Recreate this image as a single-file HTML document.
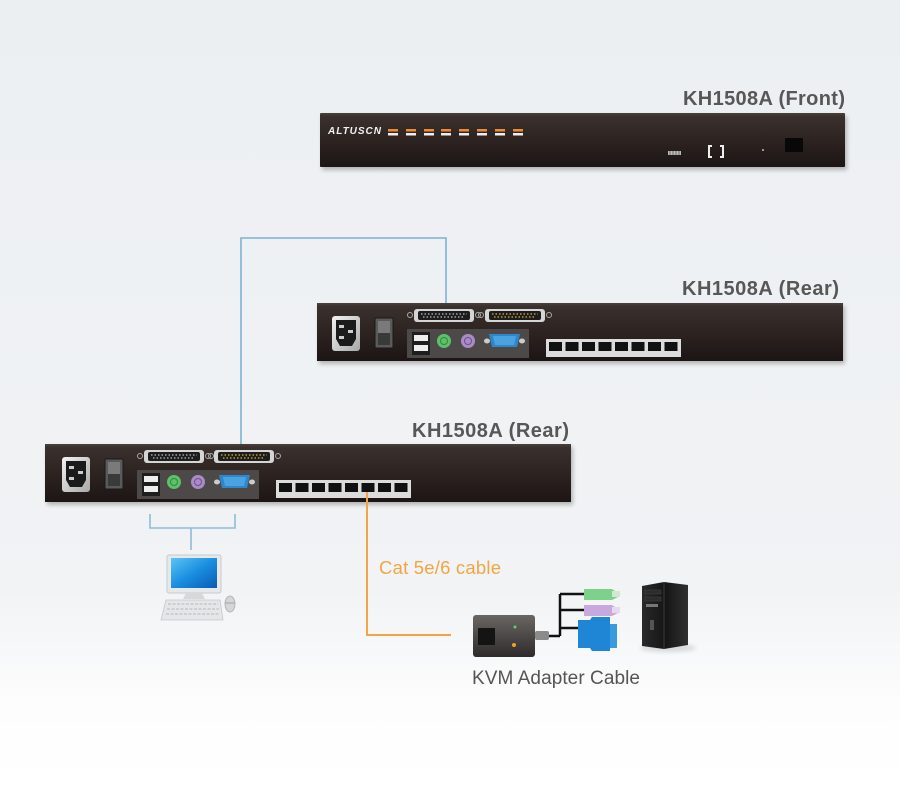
<!DOCTYPE html>
<html><head><meta charset="utf-8"><style>
html,body{margin:0;padding:0;width:900px;height:786px;overflow:hidden;background:#fff}
svg{display:block}
text{font-family:"Liberation Sans",Arial,sans-serif}
</style></head><body>
<svg width="900" height="786" viewBox="0 0 900 786" xmlns="http://www.w3.org/2000/svg">
<defs>
<linearGradient id="bg" x1="0" y1="0" x2="0" y2="1">
<stop offset="0" stop-color="#eceff2"/><stop offset="0.75" stop-color="#f1f3f5"/><stop offset="0.9" stop-color="#fdfdfd"/><stop offset="1" stop-color="#ffffff"/>
</linearGradient>
<linearGradient id="body" x1="0" y1="0" x2="0" y2="1">
<stop offset="0" stop-color="#4a403c"/><stop offset="0.06" stop-color="#3a302d"/><stop offset="0.6" stop-color="#2a211f"/><stop offset="1" stop-color="#1c1513"/>
</linearGradient>
<linearGradient id="silver" x1="0" y1="0" x2="1" y2="1">
<stop offset="0" stop-color="#f2f2f2"/><stop offset="1" stop-color="#a8a8a8"/>
</linearGradient>
<linearGradient id="scr" x1="0" y1="0" x2="1" y2="1">
<stop offset="0" stop-color="#5cc4f5"/><stop offset="0.5" stop-color="#1a8ee0"/><stop offset="1" stop-color="#0b5bb5"/>
</linearGradient>
<linearGradient id="adp" x1="0" y1="0" x2="0" y2="1">
<stop offset="0" stop-color="#6a6664"/><stop offset="1" stop-color="#2e2b2a"/>
</linearGradient>
<linearGradient id="tower" x1="0" y1="0" x2="1" y2="0">
<stop offset="0" stop-color="#2a2a2a"/><stop offset="0.5" stop-color="#151515"/><stop offset="1" stop-color="#303030"/>
</linearGradient>
<filter id="sh" x="-5%" y="-20%" width="110%" height="160%"><feGaussianBlur stdDeviation="2"/></filter>
</defs>
<rect width="900" height="786" fill="url(#bg)"/>

<!-- FRONT UNIT -->
<text x="845" y="105" text-anchor="end" font-size="20" font-weight="bold" fill="#575757" textLength="162">KH1508A (Front)</text>
<rect x="322" y="116" width="525" height="54" fill="#000" opacity="0.25" filter="url(#sh)"/>
<rect x="320" y="113" width="525" height="54" rx="1" fill="url(#body)"/>
<text x="328" y="134" font-size="10" font-weight="bold" font-style="italic" fill="#f2f2f2" textLength="53">ALTUSCN</text>
<g>
<rect x="388" y="129" width="10" height="2.5" fill="#f08a2a"/><rect x="388" y="133" width="10" height="2.5" fill="#eee"/>
<rect x="406" y="129" width="10" height="2.5" fill="#f08a2a"/><rect x="406" y="133" width="10" height="2.5" fill="#eee"/>
<rect x="424" y="129" width="10" height="2.5" fill="#f08a2a"/><rect x="424" y="133" width="10" height="2.5" fill="#eee"/>
<rect x="441" y="129" width="10" height="2.5" fill="#f08a2a"/><rect x="441" y="133" width="10" height="2.5" fill="#eee"/>
<rect x="459" y="129" width="10" height="2.5" fill="#f08a2a"/><rect x="459" y="133" width="10" height="2.5" fill="#eee"/>
<rect x="477" y="129" width="10" height="2.5" fill="#f08a2a"/><rect x="477" y="133" width="10" height="2.5" fill="#eee"/>
<rect x="495" y="129" width="10" height="2.5" fill="#f08a2a"/><rect x="495" y="133" width="10" height="2.5" fill="#eee"/>
<rect x="513" y="129" width="10" height="2.5" fill="#f08a2a"/><rect x="513" y="133" width="10" height="2.5" fill="#eee"/>
</g>
<rect x="668" y="151" width="13" height="4" fill="#bbb"/>
<path d="M670 151v4M673 151v4M676 151v4M679 151v4" stroke="#555" stroke-width="0.8"/>
<path d="M712 146h-3v11h3M720 146h3v11h-3" stroke="#eee" stroke-width="2" fill="none"/>
<circle cx="763" cy="150" r="1" fill="#bbb"/>
<rect x="785" y="138" width="18" height="14" fill="#080808"/>

<!-- BLUE CONNECTOR -->
<path d="M241 458V238H446V316" fill="none" stroke="#7cb3d2" stroke-width="1.6"/>

<!-- REAR UNIT 1 -->
<text x="839" y="295" text-anchor="end" font-size="20" font-weight="bold" fill="#575757" textLength="157">KH1508A (Rear)</text>
<g transform="translate(317,303)">
<rect x="2" y="3" width="526" height="58" fill="#000" opacity="0.25" filter="url(#sh)"/>
<rect width="526" height="58" fill="url(#body)"/>
<rect x="15" y="13" width="28" height="35" rx="3" fill="url(#silver)"/>
<path d="M19 17h20v19l-4 7h-12l-4-7z" fill="#1b1b1b"/>
<rect x="22" y="22" width="5" height="3" fill="#ccc"/><rect x="22" y="33" width="5" height="3" fill="#ccc"/><rect x="31" y="27" width="5" height="3" fill="#ccc"/>
<rect x="58" y="15" width="18" height="30" rx="1" fill="#5a5a5a" stroke="#1a1a1a"/>
<rect x="61" y="18" width="12" height="24" fill="#7a7a7a"/><rect x="61" y="30" width="12" height="12" fill="#3a3a3a"/>
<circle cx="93" cy="12" r="2.5" fill="none" stroke="#aaa"/><rect x="97" y="6" width="60" height="13" rx="3" fill="#d5d5d5"/><rect x="101" y="8" width="52" height="9" rx="2" fill="#1d1d1d"/>
<path d="M104 11h46M106 14h42" stroke="#bbb" stroke-width="1.2" stroke-dasharray="1.5 2"/><circle cx="161" cy="12" r="2.5" fill="none" stroke="#aaa"/>
<circle cx="164" cy="12" r="2.5" fill="none" stroke="#aaa"/><rect x="168" y="6" width="60" height="13" rx="3" fill="#d5d5d5"/><rect x="172" y="8" width="52" height="9" rx="2" fill="#1d1d1d"/>
<path d="M175 11h46M177 14h42" stroke="#e0b040" stroke-width="1.2" stroke-dasharray="1.5 2"/><circle cx="232" cy="12" r="2.5" fill="none" stroke="#aaa"/>
<rect x="90" y="26" width="122" height="29" fill="#4e4949"/>
<rect x="95" y="29" width="18" height="23" fill="#1e1e1e"/><rect x="97" y="32" width="14" height="6" fill="#eee"/><rect x="97" y="42" width="14" height="6" fill="#eee"/>
<circle cx="127" cy="38" r="7" fill="#5fbf6a"/><circle cx="127" cy="38" r="3.5" fill="none" stroke="#2e8a3e"/>
<circle cx="151" cy="38" r="7" fill="#a98cc4"/><circle cx="151" cy="38" r="3.5" fill="none" stroke="#6f4f8f"/>
<ellipse cx="170" cy="38" rx="3" ry="2.5" fill="#ccc"/><ellipse cx="205" cy="38" rx="3" ry="2.5" fill="#ccc"/>
<path d="M172 31h31l-3 13h-25z" fill="#2f86c8"/><path d="M176 33h23l-2 9h-19z" fill="#4aa3e0"/>
<rect x="229" y="36" width="135" height="18" fill="#dcdcdc"/>
<g fill="#111">
<rect x="232" y="39" width="13" height="9"/><rect x="248.5" y="39" width="13" height="9"/><rect x="265" y="39" width="13" height="9"/><rect x="281.5" y="39" width="13" height="9"/>
<rect x="298" y="39" width="13" height="9"/><rect x="314.5" y="39" width="13" height="9"/><rect x="331" y="39" width="13" height="9"/><rect x="347.5" y="39" width="13" height="9"/>
</g>
</g>

<!-- REAR UNIT 2 -->
<text x="569" y="437" text-anchor="end" font-size="20" font-weight="bold" fill="#575757" textLength="157">KH1508A (Rear)</text>
<g transform="translate(45,444)">
<rect x="2" y="3" width="526" height="58" fill="#000" opacity="0.25" filter="url(#sh)"/>
<rect width="526" height="58" fill="url(#body)"/>
<rect x="17" y="13" width="28" height="35" rx="3" fill="url(#silver)"/>
<path d="M21 17h20v19l-4 7h-12l-4-7z" fill="#1b1b1b"/>
<rect x="24" y="22" width="5" height="3" fill="#ccc"/><rect x="24" y="33" width="5" height="3" fill="#ccc"/><rect x="33" y="27" width="5" height="3" fill="#ccc"/>
<rect x="60" y="15" width="18" height="30" rx="1" fill="#5a5a5a" stroke="#1a1a1a"/>
<rect x="63" y="18" width="12" height="24" fill="#7a7a7a"/><rect x="63" y="30" width="12" height="12" fill="#3a3a3a"/>
<circle cx="95" cy="12" r="2.5" fill="none" stroke="#aaa"/><rect x="99" y="6" width="60" height="13" rx="3" fill="#d5d5d5"/><rect x="103" y="8" width="52" height="9" rx="2" fill="#1d1d1d"/>
<path d="M106 11h46M108 14h42" stroke="#bbb" stroke-width="1.2" stroke-dasharray="1.5 2"/><circle cx="163" cy="12" r="2.5" fill="none" stroke="#aaa"/>
<circle cx="166" cy="12" r="2.5" fill="none" stroke="#aaa"/><rect x="169" y="6" width="60" height="13" rx="3" fill="#d5d5d5"/><rect x="173" y="8" width="52" height="9" rx="2" fill="#1d1d1d"/>
<path d="M176 11h46M178 14h42" stroke="#e0b040" stroke-width="1.2" stroke-dasharray="1.5 2"/><circle cx="233" cy="12" r="2.5" fill="none" stroke="#aaa"/>
<rect x="92" y="26" width="122" height="29" fill="#4e4949"/>
<rect x="97" y="29" width="18" height="23" fill="#1e1e1e"/><rect x="99" y="32" width="14" height="6" fill="#eee"/><rect x="99" y="42" width="14" height="6" fill="#eee"/>
<circle cx="129" cy="38" r="7" fill="#5fbf6a"/><circle cx="129" cy="38" r="3.5" fill="none" stroke="#2e8a3e"/>
<circle cx="153" cy="38" r="7" fill="#a98cc4"/><circle cx="153" cy="38" r="3.5" fill="none" stroke="#6f4f8f"/>
<ellipse cx="172" cy="38" rx="3" ry="2.5" fill="#ccc"/><ellipse cx="207" cy="38" rx="3" ry="2.5" fill="#ccc"/>
<path d="M174 31h31l-3 13h-25z" fill="#2f86c8"/><path d="M178 33h23l-2 9h-19z" fill="#4aa3e0"/>
<rect x="231" y="36" width="135" height="18" fill="#dcdcdc"/>
<g fill="#111">
<rect x="234" y="39" width="13" height="9"/><rect x="250.5" y="39" width="13" height="9"/><rect x="267" y="39" width="13" height="9"/><rect x="283.5" y="39" width="13" height="9"/>
<rect x="300" y="39" width="13" height="9"/><rect x="316.5" y="39" width="13" height="9"/><rect x="333" y="39" width="13" height="9"/><rect x="349.5" y="39" width="13" height="9"/>
</g>
</g>

<!-- CONSOLE BRACKET -->
<path d="M150 514V528H235V514M191 528V550" fill="none" stroke="#8fbcd6" stroke-width="1.6"/>

<!-- MONITOR -->
<rect x="167" y="555" width="54" height="38" rx="2" fill="#e6e8ea" stroke="#c8cbce"/>
<rect x="171" y="558" width="46" height="30" fill="url(#scr)"/>
<path d="M186 593h16l3 6h-22z" fill="#d6d8da"/>
<path d="M166 600h54l3 20h-62z" fill="#e4e6e8" stroke="#c5c7c9" stroke-width="0.8"/>
<path d="M168 604h50M167 609h52M166 614h54" stroke="#bfc2c5" stroke-width="1.2" stroke-dasharray="3 1.5"/>
<ellipse cx="230" cy="604" rx="5" ry="8" fill="#d4d6d8" stroke="#a9acaf" stroke-width="0.8"/>
<path d="M225 603h10" stroke="#999" stroke-width="0.8"/>

<!-- ORANGE CABLE -->
<path d="M367 492V635H451" fill="none" stroke="#f2a545" stroke-width="2"/>
<text x="379" y="574" font-size="18.5" fill="#f2a545" textLength="122">Cat 5e/6 cable</text>

<!-- KVM ADAPTER -->
<rect x="473" y="615" width="62" height="42" rx="3" fill="url(#adp)"/>
<rect x="478" y="628" width="17" height="17" fill="#141414"/>
<circle cx="515" cy="627" r="1.5" fill="#5fd06a"/>
<circle cx="514" cy="645" r="2" fill="#f0a030"/>
<rect x="535" y="631" width="14" height="9" rx="2" fill="#8a8a8a"/>
<path d="M549 636H560M560 594V636M560 594H586M560 610H586M560 628H580" fill="none" stroke="#111" stroke-width="2.5"/>
<path d="M584 589h28l6 4v4l-6 3h-28z" fill="#7ed08a"/><rect x="612" y="591" width="8" height="6" fill="#d0e8d2"/>
<path d="M584 605h28l6 4v4l-6 3h-28z" fill="#c9a8dd"/><rect x="612" y="607" width="8" height="6" fill="#e6d8ee"/>
<path d="M578 620h12l2-3h18v34h-18l-2-3h-12z" fill="#1f86d6"/><rect x="610" y="624" width="7" height="24" fill="#3a9ae0"/>

<!-- TOWER PC -->
<ellipse cx="668" cy="648" rx="28" ry="4" fill="#000" opacity="0.12" filter="url(#sh)"/>
<path d="M642 586l22-4 24 3v60l-24 4-22-3z" fill="url(#tower)"/>
<path d="M664 582v67" stroke="#3c3c3c" stroke-width="1"/>
<rect x="645" y="590" width="16" height="4" fill="#2c2c2c" stroke="#444" stroke-width="0.5"/>
<rect x="645" y="597" width="16" height="4" fill="#2c2c2c" stroke="#444" stroke-width="0.5"/>
<rect x="646" y="604" width="12" height="3" fill="#777"/>
<rect x="650" y="620" width="4" height="10" fill="#555"/>

<text x="472" y="684" font-size="19" fill="#555" textLength="168">KVM Adapter Cable</text>
</svg>
</body></html>
